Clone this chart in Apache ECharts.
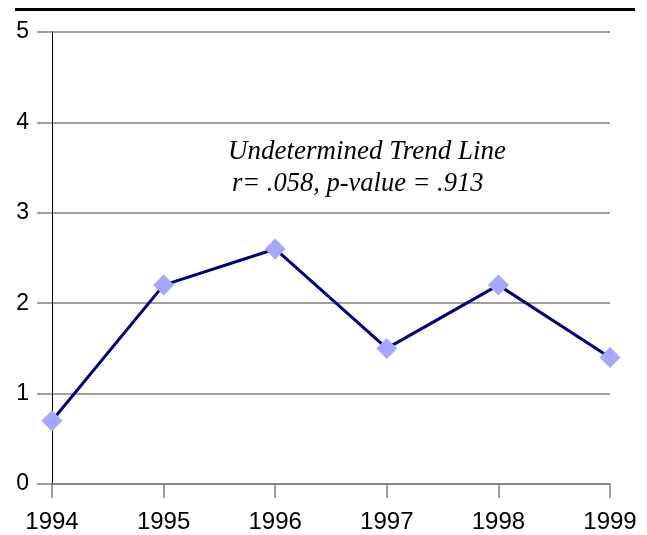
<!DOCTYPE html>
<html><head><meta charset="utf-8">
<script src="https://cdn.jsdelivr.net/npm/echarts@6/dist/echarts.min.js"></script>
<style>html,body{margin:0;padding:0;background:#fff}#c{width:647px;height:535px}</style>
</head><body><div id="c"></div>
<script>
const years = ['1994','1995','1996','1997','1998','1999'];
const values = [0.7, 2.2, 2.6, 1.5, 2.2, 1.4];
const yTicks = [0, 1, 2, 3, 4, 5];
const noteLine1 = 'Undetermined Trend Line';
const noteLine2 = 'r= .058, p-value = .913';

const chart = echarts.init(document.getElementById('c'), null, {renderer:'canvas'});
chart.setOption({
  animation:false,
  backgroundColor:'#fff',
  grid:{left:52, top:32, right:37, bottom:51, containLabel:false},
  xAxis:{
    type:'category', data:years, boundaryGap:false,
    axisLine:{lineStyle:{color:'#808080', width:1.5}},
    axisTick:{alignWithLabel:true, length:14, lineStyle:{color:'#808080', width:1.5}},
    axisLabel:{margin:26, color:'#000', fontFamily:'Liberation Sans', fontSize:24},
    splitLine:{show:false}
  },
  yAxis:{
    type:'value', min:yTicks[0], max:yTicks[yTicks.length-1], interval:1,
    axisLine:{show:true, lineStyle:{color:'#000', width:1}},
    axisTick:{show:true, length:15, lineStyle:{color:'#808080', width:1.5}},
    axisLabel:{margin:23, color:'#000', fontFamily:'Liberation Sans', fontSize:23},
    splitLine:{show:true, lineStyle:{color:'#808080', width:1.5}}
  },
  graphic:[
    {type:'line', shape:{x1:15, y1:9.5, x2:635, y2:9.5}, style:{stroke:'#000', lineWidth:3}},
    {type:'text', left:228, top:138, style:{text:noteLine1, font:'italic 27px "Liberation Serif"', fill:'#000'}},
    {type:'text', left:232, top:171, style:{text:noteLine2, font:'italic 26.5px "Liberation Serif"', fill:'#000'}}
  ],
  series:[{
    type:'line', data:values,
    lineStyle:{color:'#000080', width:3},
    symbol:'diamond', symbolSize:21,
    itemStyle:{color:'#a6a6ff'},
    z:3
  }]
});
</script></body></html>
